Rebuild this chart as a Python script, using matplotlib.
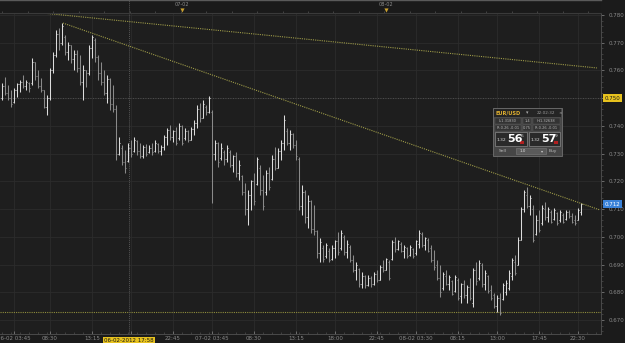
import matplotlib
matplotlib.use('Agg')
import matplotlib.pyplot as plt
import matplotlib.transforms as mtransforms
from matplotlib.patches import Rectangle
import numpy as np

# ---------------- data ----------------
highs = [
    0.7555, 0.7576, 0.7548, 0.7530, 0.7537, 0.7555, 0.7566, 0.7584, 0.7566, 0.7558,
    0.7645, 0.7630, 0.7602, 0.7573, 0.7530, 0.7511, 0.7609, 0.7667, 0.7746, 0.7753,
    0.7771, 0.7728, 0.7703, 0.7692, 0.7674, 0.7674, 0.7656, 0.7620, 0.7602, 0.7692,
    0.7728, 0.7717, 0.7656, 0.7630, 0.7602, 0.7584, 0.7573, 0.7548, 0.7475, 0.7360,
    0.7331, 0.7313, 0.7338, 0.7349, 0.7360, 0.7349, 0.7338, 0.7331, 0.7335, 0.7331,
    0.7338, 0.7349, 0.7338, 0.7331, 0.7367, 0.7392, 0.7403, 0.7385, 0.7396, 0.7410,
    0.7403, 0.7392, 0.7385, 0.7396, 0.7421, 0.7475, 0.7483, 0.7494, 0.7475, 0.7508,
    0.7457, 0.7349, 0.7342, 0.7338, 0.7313, 0.7331, 0.7313, 0.7295, 0.7306, 0.7277,
    0.7223, 0.7194, 0.7169, 0.7205, 0.7230, 0.7288, 0.7259, 0.7223, 0.7241, 0.7252,
    0.7295, 0.7324, 0.7320, 0.7349, 0.7439, 0.7392, 0.7385, 0.7374, 0.7349, 0.7288,
    0.7187, 0.7169, 0.7151, 0.7133, 0.7115, 0.7025, 0.6996, 0.6971, 0.6978, 0.6960,
    0.6971, 0.6989, 0.7018, 0.7025, 0.7007, 0.6989, 0.6971, 0.6935, 0.6909, 0.6888,
    0.6873, 0.6862, 0.6862, 0.6859, 0.6873, 0.6880, 0.6898, 0.6917, 0.6924, 0.6917,
    0.6989, 0.7000, 0.6989, 0.6981, 0.6971, 0.6963, 0.6971, 0.6960, 0.6989, 0.7025,
    0.7018, 0.7000, 0.6996, 0.6971, 0.6953, 0.6917, 0.6898, 0.6873, 0.6880, 0.6862,
    0.6844, 0.6862, 0.6852, 0.6834, 0.6844, 0.6826, 0.6852, 0.6888, 0.6909, 0.6917,
    0.6906, 0.6880, 0.6862, 0.6826, 0.6797, 0.6790, 0.6797, 0.6834, 0.6844, 0.6880,
    0.6924, 0.6935, 0.7000, 0.7108, 0.7169, 0.7180, 0.7151, 0.7115, 0.7079, 0.7097,
    0.7115, 0.7126, 0.7108, 0.7097, 0.7104, 0.7090, 0.7097, 0.7086, 0.7097, 0.7097,
    0.7086, 0.7079, 0.7104, 0.7122,
]
lows = [
    0.7494, 0.7511, 0.7494, 0.7468, 0.7483, 0.7504, 0.7522, 0.7537, 0.7530, 0.7522,
    0.7548, 0.7566, 0.7537, 0.7522, 0.7464, 0.7439, 0.7494, 0.7591, 0.7649, 0.7674,
    0.7692, 0.7656, 0.7638, 0.7627, 0.7602, 0.7594, 0.7548, 0.7494, 0.7540, 0.7584,
    0.7645, 0.7630, 0.7566, 0.7548, 0.7511, 0.7483, 0.7457, 0.7450, 0.7277, 0.7295,
    0.7259, 0.7230, 0.7270, 0.7288, 0.7306, 0.7295, 0.7284, 0.7284, 0.7291, 0.7302,
    0.7295, 0.7306, 0.7302, 0.7295, 0.7313, 0.7331, 0.7349, 0.7342, 0.7331, 0.7349,
    0.7331, 0.7349, 0.7342, 0.7349, 0.7367, 0.7392, 0.7414, 0.7429, 0.7439, 0.7447,
    0.7122, 0.7277, 0.7252, 0.7277, 0.7259, 0.7270, 0.7252, 0.7234, 0.7216, 0.7205,
    0.7151, 0.7079, 0.7043, 0.7097, 0.7115, 0.7187, 0.7151, 0.7097, 0.7151, 0.7169,
    0.7205, 0.7241, 0.7248, 0.7277, 0.7313, 0.7331, 0.7313, 0.7320, 0.7277, 0.7097,
    0.7079, 0.7050, 0.7032, 0.7014, 0.7007, 0.6924, 0.6909, 0.6909, 0.6924, 0.6909,
    0.6917, 0.6924, 0.6935, 0.6953, 0.6935, 0.6924, 0.6909, 0.6873, 0.6844, 0.6819,
    0.6815, 0.6815, 0.6823, 0.6819, 0.6826, 0.6837, 0.6844, 0.6873, 0.6880, 0.6844,
    0.6917, 0.6945, 0.6953, 0.6945, 0.6924, 0.6924, 0.6931, 0.6924, 0.6935, 0.6960,
    0.6963, 0.6953, 0.6945, 0.6909, 0.6880, 0.6844, 0.6783, 0.6808, 0.6826, 0.6808,
    0.6790, 0.6801, 0.6772, 0.6761, 0.6780, 0.6761, 0.6772, 0.6747, 0.6826, 0.6844,
    0.6819, 0.6808, 0.6797, 0.6772, 0.6743, 0.6729, 0.6718, 0.6772, 0.6790, 0.6808,
    0.6844, 0.6862, 0.6898, 0.6989, 0.7090, 0.7104, 0.7079, 0.6981, 0.7007, 0.7018,
    0.7043, 0.7061, 0.7053, 0.7050, 0.7061, 0.7043, 0.7053, 0.7050, 0.7061, 0.7068,
    0.7050, 0.7043, 0.7061, 0.7079,
]
opens = [
    0.7500, 0.7545, 0.7520, 0.7500, 0.7485, 0.7530, 0.7550, 0.7560, 0.7545, 0.7555,
    0.7555, 0.7630, 0.7580, 0.7545, 0.7530, 0.7470, 0.7500, 0.7600, 0.7655, 0.7730,
    0.7700, 0.7720, 0.7665, 0.7690, 0.7640, 0.7660, 0.7610, 0.7560, 0.7600, 0.7590,
    0.7680, 0.7710, 0.7650, 0.7590, 0.7560, 0.7520, 0.7570, 0.7480, 0.7460, 0.7300,
    0.7320, 0.7270, 0.7275, 0.7320, 0.7310, 0.7345, 0.7310, 0.7290, 0.7325, 0.7305,
    0.7320, 0.7310, 0.7335, 0.7310, 0.7325, 0.7360, 0.7385, 0.7360, 0.7380, 0.7355,
    0.7400, 0.7355, 0.7380, 0.7350, 0.7390, 0.7410, 0.7460, 0.7430, 0.7470, 0.7450,
    0.7450, 0.7300, 0.7340, 0.7285, 0.7305, 0.7280, 0.7305, 0.7260, 0.7290, 0.7230,
    0.7220, 0.7160, 0.7100, 0.7150, 0.7200, 0.7190, 0.7250, 0.7170, 0.7160, 0.7230,
    0.7210, 0.7280, 0.7250, 0.7310, 0.7340, 0.7380, 0.7340, 0.7370, 0.7330, 0.7280,
    0.7110, 0.7160, 0.7070, 0.7130, 0.7030, 0.7020, 0.6940, 0.6960, 0.6930, 0.6950,
    0.6920, 0.6960, 0.6985, 0.6960, 0.7000, 0.6945, 0.6965, 0.6915, 0.6880, 0.6885,
    0.6830, 0.6860, 0.6825, 0.6850, 0.6830, 0.6865, 0.6845, 0.6890, 0.6880, 0.6910,
    0.6920, 0.6980, 0.6955, 0.6975, 0.6950, 0.6960, 0.6935, 0.6955, 0.6940, 0.6975,
    0.7010, 0.6970, 0.6990, 0.6960, 0.6915, 0.6900, 0.6850, 0.6815, 0.6860, 0.6830,
    0.6840, 0.6805, 0.6845, 0.6785, 0.6830, 0.6790, 0.6820, 0.6760, 0.6880, 0.6850,
    0.6900, 0.6830, 0.6860, 0.6810, 0.6790, 0.6750, 0.6780, 0.6775, 0.6800, 0.6815,
    0.6860, 0.6910, 0.6900, 0.6990, 0.7100, 0.7150, 0.7110, 0.7100, 0.7010, 0.7060,
    0.7050, 0.7100, 0.7070, 0.7090, 0.7065, 0.7085, 0.7060, 0.7080, 0.7065, 0.7090,
    0.7075, 0.7060, 0.7060, 0.7090,
]
closes = [
    0.7545, 0.7520, 0.7500, 0.7480, 0.7530, 0.7550, 0.7560, 0.7545, 0.7560, 0.7535,
    0.7630, 0.7580, 0.7545, 0.7530, 0.7470, 0.7500, 0.7600, 0.7655, 0.7730, 0.7700,
    0.7760, 0.7665, 0.7690, 0.7640, 0.7660, 0.7610, 0.7560, 0.7600, 0.7590, 0.7680,
    0.7720, 0.7650, 0.7590, 0.7560, 0.7520, 0.7570, 0.7480, 0.7460, 0.7300, 0.7340,
    0.7270, 0.7250, 0.7320, 0.7300, 0.7350, 0.7310, 0.7290, 0.7325, 0.7300, 0.7320,
    0.7305, 0.7340, 0.7310, 0.7325, 0.7360, 0.7385, 0.7360, 0.7380, 0.7340, 0.7400,
    0.7340, 0.7380, 0.7350, 0.7390, 0.7410, 0.7460, 0.7430, 0.7480, 0.7450, 0.7500,
    0.7300, 0.7340, 0.7270, 0.7320, 0.7280, 0.7320, 0.7260, 0.7290, 0.7230, 0.7260,
    0.7160, 0.7100, 0.7150, 0.7200, 0.7130, 0.7280, 0.7170, 0.7110, 0.7230, 0.7180,
    0.7280, 0.7250, 0.7310, 0.7340, 0.7420, 0.7340, 0.7370, 0.7330, 0.7290, 0.7110,
    0.7160, 0.7070, 0.7130, 0.7030, 0.7020, 0.6940, 0.6980, 0.6920, 0.6970, 0.6915,
    0.6960, 0.6985, 0.6945, 0.7015, 0.6945, 0.6975, 0.6915, 0.6880, 0.6900, 0.6830,
    0.6860, 0.6825, 0.6850, 0.6830, 0.6865, 0.6845, 0.6890, 0.6880, 0.6920, 0.6850,
    0.6980, 0.6955, 0.6985, 0.6950, 0.6965, 0.6930, 0.6965, 0.6930, 0.6985, 0.7015,
    0.6970, 0.6995, 0.6950, 0.6915, 0.6890, 0.6850, 0.6800, 0.6865, 0.6830, 0.6855,
    0.6795, 0.6855, 0.6780, 0.6830, 0.6790, 0.6820, 0.6780, 0.6880, 0.6840, 0.6905,
    0.6830, 0.6870, 0.6805, 0.6780, 0.6750, 0.6780, 0.6725, 0.6825, 0.6835, 0.6870,
    0.6915, 0.6870, 0.6990, 0.7100, 0.7160, 0.7110, 0.7140, 0.6990, 0.7060, 0.7025,
    0.7105, 0.7070, 0.7100, 0.7055, 0.7095, 0.7050, 0.7090, 0.7055, 0.7090, 0.7075,
    0.7055, 0.7050, 0.7095, 0.7118,
]

time_tick_bars = [4, 16, 30, 43, 57, 70, 84, 98, 111, 125, 138, 152, 165, 179, 192]
time_tick_labels = ['06-02 03:45', '08:30', '13:15', '', '22:45', '07-02 03:45', '08:30',
                    '13:15', '18:00', '22:45', '08-02 03:30', '08:15', '13:00', '17:45', '22:30']
day_marker_bars = [60, 128]
day_marker_labels = ['07-02', '08-02']
cursor_bar = 42.3
cursor_label = '06-02-2012 17:58'
price_ticks = [0.670, 0.680, 0.690, 0.700, 0.710, 0.720, 0.730, 0.740, 0.750, 0.760, 0.770, 0.780]
marked_level = 0.750
support_level = 0.6729
trend_upper_x = [13.7, 198.3]
trend_upper_y = [0.7807, 0.7609]
trend_lower_x = [20.3, 199.3]
trend_lower_y = [0.7771, 0.7097]

# ---------------- figure ----------------
W, H = 625, 343
fig = plt.figure(figsize=(W / 100, H / 100), dpi=100)
BG = '#1b1b1b'
fig.patch.set_facecolor(BG)
plt.rcParams['font.family'] = ['DejaVu Sans']

def fx(px):
    return px / W

def fy(py):
    return 1 - py / H

ax = fig.add_axes([0, fy(334), fx(601), fy(13) - fy(334)])
ax.set_facecolor('#1e1e1e')

x = np.arange(len(highs))
o = np.array(opens); c = np.array(closes)
hi = np.array(highs); lo = np.array(lows)
up = c >= o
cols = np.where(up, '#dcdcdc', '#8a8a8a')

ax.set_xlim(-0.667, 199.667)
ax.set_ylim(0.66496, 0.78072)

# grid
ax.set_yticks(price_ticks)
# the 0.750 level is shown by its own tag, so its plain label stays empty
ax.set_yticklabels(['' if abs(v - marked_level) < 1e-9 else '%.3f' % v for v in price_ticks])
ax.set_xticks(time_tick_bars)
ax.set_xticklabels(time_tick_labels)
ax.grid(True, color='#2c2c2c', lw=0.6)
ax.set_axisbelow(True)

# bars
lw = 0.75
ax.vlines(x, np.minimum(lo, np.minimum(o, c)), np.maximum(hi, np.maximum(o, c)),
          colors=cols, lw=lw, zorder=3)
ax.hlines(o, x - 0.36, x, colors=cols, lw=lw, zorder=3)
ax.hlines(c, x, x + 0.36, colors=cols, lw=lw, zorder=3)

# reference lines
ax.axhline(marked_level, color='#5a5a5a', lw=0.6, ls=(0, (1, 2)), zorder=2)
ax.axhline(support_level, color='#8f8c3c', lw=0.8, ls=(0, (1, 1)), zorder=2)
ax.axvline(cursor_bar, color='#555555', lw=0.7, ls=(0, (1, 1)), zorder=2)
ax.plot(trend_upper_x, trend_upper_y, color='#9d9a48', lw=0.8, ls=(0, (1, 1)), zorder=4,
        clip_on=False)
ax.plot(trend_lower_x, trend_lower_y, color='#9d9a48', lw=0.8, ls=(0, (1, 1)), zorder=4,
        clip_on=False)

# axes styling
ax.yaxis.tick_right()
ax.tick_params(axis='y', which='major', labelsize=4, colors='#8a8a8a', length=2.5,
               width=0.5, pad=3, direction='out')
ax.set_yticks(np.arange(0.666, 0.781, 0.002), minor=True)
ax.tick_params(axis='y', which='minor', length=1.5, width=0.4, colors='#5a5a5a')
ax.tick_params(axis='x', which='major', labelsize=4, colors='#8a8a8a', length=2,
               width=0.5, pad=1.5, direction='in')
ax.set_xticks(np.arange(0, 200, 3), minor=True)
ax.tick_params(axis='x', which='minor', length=1.2, width=0.4, colors='#5a5a5a',
               direction='in')
for lab in ax.get_yticklabels():
    lab.set_color('#8a8a8a')
for side in ['left', 'top']:
    ax.spines[side].set_visible(False)
for side in ['right', 'bottom']:
    ax.spines[side].set_color('#4a4a4a')
    ax.spines[side].set_linewidth(0.7)

# price tags on the right axis
trans_r = mtransforms.blended_transform_factory(ax.transAxes, ax.transData)
ax.text(1.006, marked_level, '%.3f' % marked_level, transform=trans_r, fontsize=4,
        color='#1a1a1a', va='center', ha='left', zorder=10, clip_on=False,
        bbox=dict(boxstyle='square,pad=0.25', fc='#e7c21e', ec='none'))
ax.text(1.006, closes[-1], '%.3f' % closes[-1], transform=trans_r, fontsize=4,
        color='#ffffff', va='center', ha='left', zorder=10, clip_on=False,
        bbox=dict(boxstyle='square,pad=0.25', fc='#3a82d8', ec='none'))

# cursor tag on the time axis
trans_b = mtransforms.blended_transform_factory(ax.transData, ax.transAxes)
ax.text(cursor_bar, -0.014, cursor_label, transform=trans_b, fontsize=4, color='#1a1a1a',
        va='top', ha='center', zorder=10, clip_on=False,
        bbox=dict(boxstyle='square,pad=0.2', fc='#e7c21e', ec='none'))

# ---------------- top strip ----------------
axt = fig.add_axes([0, fy(13), fx(601), fy(0) - fy(13)])
axt.set_facecolor('#1a1a1a')
axt.set_xlim(ax.get_xlim())
axt.set_ylim(0, 1)
axt.set_yticks([])
axt.set_xticks(np.arange(0, 200, 8.5))
axt.tick_params(axis='x', length=1.5, width=0.5, colors='#555555', direction='in',
                labelbottom=False)
for side in ['left', 'right']:
    axt.spines[side].set_visible(False)
axt.spines['top'].set_color('#5a5a5a')
axt.spines['top'].set_linewidth(1.0)
axt.spines['bottom'].set_color('#3a3a3a')
for b, lab in zip(day_marker_bars, day_marker_labels):
    axt.text(b, 0.62, lab, fontsize=3.6, color='#8a8a8a', ha='center', va='center')
    axt.plot([b], [0.22], marker='v', ms=3, color='#c9a030', mec='none')
axt.axvline(cursor_bar, color='#555555', lw=0.7, ls=(0, (1, 1)))

# ---------------- trade widget ----------------
def rect(x0, y0, x1, y1, fc, ec='none', lw=0.5):
    fig.patches.append(Rectangle((fx(x0), fy(y1)), fx(x1) - fx(x0), fy(y0) - fy(y1),
                                 transform=fig.transFigure, fc=fc, ec=ec, lw=lw, zorder=20))

def txt(px, py, s, size, color, ha='left', weight='normal'):
    fig.text(fx(px), fy(py), s, fontsize=size, color=color, ha=ha, va='center',
             weight=weight, zorder=21)

rect(493, 108, 562, 156, '#464646', '#707070', 0.6)
rect(494, 109, 561, 117, '#242424')
txt(496, 113, 'EUR/USD', 3.6, '#e0b030', weight='bold')
txt(526, 113, '\u25be', 3.5, '#aaaaaa')
txt(555, 113, '22:02:32', 3.0, '#9a9a9a', ha='right')
txt(558, 113, '\u00d7', 3.2, '#aaaaaa')
rect(495, 118, 521, 124, '#333333', '#5a5a5a', 0.3)
rect(523, 118, 531, 124, '#333333', '#5a5a5a', 0.3)
rect(533, 118, 560, 124, '#333333', '#5a5a5a', 0.3)
txt(508, 121, 'L:1.31830', 2.6, '#b5b5b5', ha='center')
txt(527, 121, '1.4', 2.6, '#b5b5b5', ha='center')
txt(546, 121, 'H:1.32638', 2.6, '#b5b5b5', ha='center')
rect(495, 125, 521, 131, '#333333', '#5a5a5a', 0.3)
rect(523, 125, 531, 131, '#333333', '#5a5a5a', 0.3)
rect(533, 125, 560, 131, '#333333', '#5a5a5a', 0.3)
txt(508, 128, 'R:0.26 -0.01', 2.6, '#b5b5b5', ha='center')
txt(527, 128, '0.75', 2.6, '#b5b5b5', ha='center')
txt(546, 128, 'R:0.26 -0.01', 2.6, '#b5b5b5', ha='center')
rect(495, 132, 527, 146, '#2a2a2a', '#8a8a8a', 0.5)
rect(529, 132, 560, 146, '#2a2a2a', '#8a8a8a', 0.5)
txt(497, 140, '1.32', 3.2, '#dddddd')
txt(507, 139, '56', 8, '#ffffff', weight='bold')
txt(521, 136, '6', 3.2, '#dddddd')
rect(520, 141, 524, 144, '#b02020')
txt(531, 140, '1.32', 3.2, '#dddddd')
txt(541, 139, '57', 8, '#ffffff', weight='bold')
txt(555, 136, '9', 3.2, '#dddddd')
rect(554, 141, 558, 144, '#b02020')
txt(503, 151, 'Sell', 3.2, '#bbbbbb', ha='center')
rect(516, 148, 546, 154, '#5a5a5a', '#7a7a7a', 0.4)
txt(520, 151, '1.0', 3.0, '#dddddd')
txt(541, 151, '\u25be', 3.0, '#cccccc')
txt(553, 151, 'Buy', 3.2, '#bbbbbb', ha='center')

fig.savefig('out.png', dpi=100, facecolor=fig.get_facecolor())
